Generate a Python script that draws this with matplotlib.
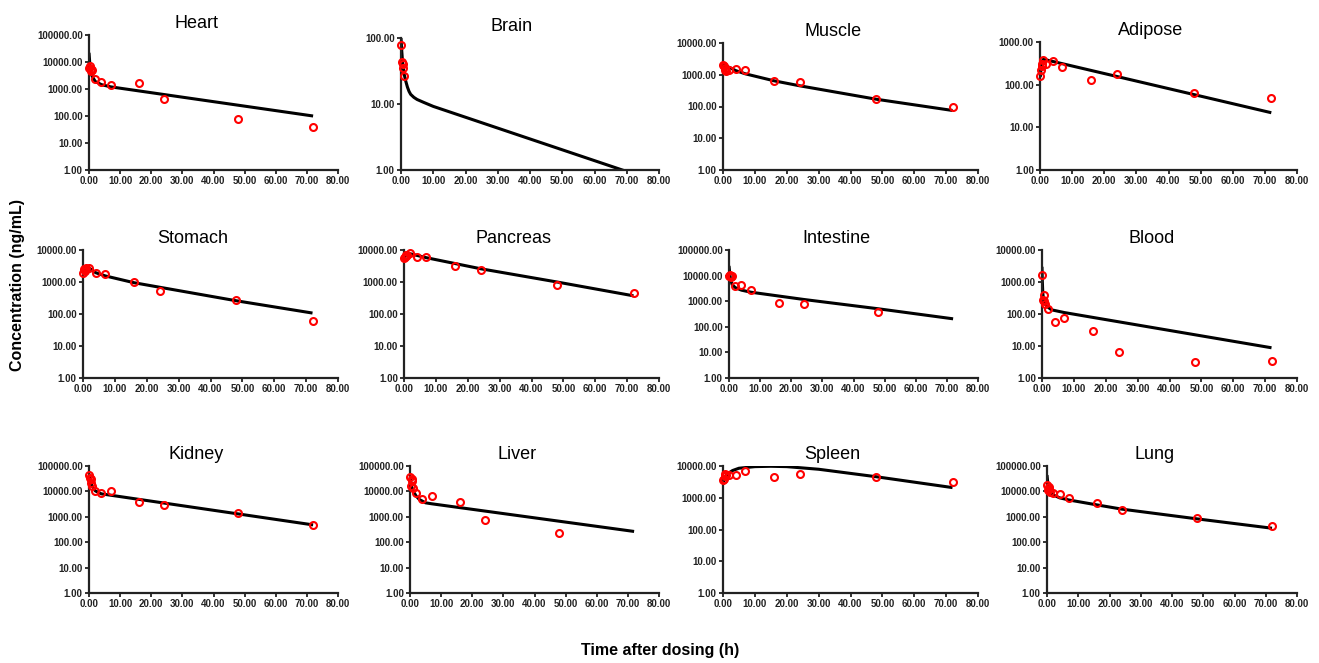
import numpy as np
import matplotlib
matplotlib.use('Agg')
import matplotlib.pyplot as plt
from matplotlib.ticker import FormatStrFormatter, NullLocator, FixedLocator

plt.rcParams['font.family'] = ['Liberation Sans', 'DejaVu Sans']

organs = ['Heart', 'Brain', 'Muscle', 'Adipose',
          'Stomach', 'Pancreas', 'Intestine', 'Blood',
          'Kidney', 'Liver', 'Spleen', 'Lung']

# sampling times (h) of the measured tissue concentrations
obs_time = [0.083, 0.25, 0.5, 0.75, 1, 2, 4, 7, 16, 24, 48, 72]

# observed concentrations (ng/mL)
heart_obs = [6000, 7000, 4500, 5500, 5000, 2300, 1870, 1400, 1620, 415, 75, 38]
brain_obs = [77, 43, 40, 35, 27]
muscle_obs = [1980, 1830, 1620, 1450, 1270, 1380, 1550, 1380, 630, 575, 178, 100]
adipose_obs = [162, 224, 268, 300, 383, 310, 363, 262, 130, 174, 63, 49]
stomach_obs = [1940, 2460, 2150, 2500, 2770, 2650, 1940, 1800, 1000, 525, 275, 61]
pancreas_obs = [5760, 6200, 6790, 6500, 7200, 8200, 6000, 6000, 3070, 2300, 780, 460]
intestine_obs = [9570, 10500, 9000, 10000, 9500, 3900, 4150, 2700, 870, 790, 375]
blood_obs = [1700, 280, 400, 250, 200, 145, 55, 74, 29.5, 6.3, 3.1, 3.4]
kidney_obs = [43000, 35000, 29700, 22000, 16300, 10300, 8300, 10600, 3900, 2800, 1350, 480]
liver_obs = [37000, 16300, 29700, 25500, 13900, 8300, 5150, 6600, 3800, 780, 240]
spleen_obs = [3540, 4000, 4900, 5500, 5300, 5100, 5100, 6900, 4600, 5760, 4600, 3080]
lung_obs = [17900, 11400, 15500, 12100, 9800, 8500, 7900, 5400, 3400, 1870, 890, 440]

# model-predicted curves (time, concentration)
heart_fit_t = [0, 0.25, 0.5, 1, 2, 4, 7, 72]
heart_fit = [22000, 9000, 5000, 3000, 1900, 1450, 1200, 100]
brain_fit_t = [0, 0.25, 0.5, 1, 1.5, 2, 2.5, 3, 4, 5, 7, 10, 72]
brain_fit = [100, 62, 42, 28, 22, 18, 15.5, 14, 12.6, 11.7, 10.6, 9.2, 0.88]
muscle_fit_t = [0, 2, 4, 7, 16, 24, 48, 72]
muscle_fit = [2100, 1700, 1350, 1070, 645, 450, 170, 75]
adipose_fit_t = [0.083, 0.5, 1, 2, 4, 72]
adipose_fit = [150, 330, 390, 380, 350, 22]
stomach_fit_t = [0.083, 0.5, 1, 2, 4, 7, 16, 48, 72]
stomach_fit = [1900, 2500, 2800, 2700, 1950, 1550, 950, 260, 107]
pancreas_fit_t = [0.083, 0.5, 1, 2, 4, 7, 24, 48, 72]
pancreas_fit = [5500, 6500, 7200, 7600, 6800, 5750, 2600, 1000, 370]
intestine_fit_t = [0, 0.25, 0.5, 1, 2, 4, 7, 24, 48, 72]
intestine_fit = [24000, 12000, 7000, 4500, 3400, 2700, 2250, 1170, 505, 205]
blood_fit_t = [0, 0.083, 0.25, 0.5, 1, 2, 3, 7, 72]
blood_fit = [3000, 1200, 450, 280, 200, 160, 135, 111, 8.8]
kidney_fit_t = [0, 0.25, 0.5, 1, 2, 4, 72]
kidney_fit = [50000, 35000, 25000, 16000, 10500, 8000, 480]
liver_fit_t = [0, 0.25, 0.5, 1, 2, 3, 5, 7, 72]
liver_fit = [40000, 25000, 16000, 10300, 6500, 4800, 3550, 3250, 265]
spleen_fit_t = [0, 0.5, 1, 2, 3, 5, 10, 15, 20, 30, 48, 72]
spleen_fit = [2650, 4000, 5000, 6200, 7200, 8500, 9550, 9800, 9550, 7900, 4600, 2090]
lung_fit_t = [0, 0.25, 0.5, 1, 2, 4, 7, 16, 24, 48, 72]
lung_fit = [44000, 22000, 14000, 9500, 7250, 5600, 4600, 2940, 2000, 830, 355]

# upper decade of each y axis
y_top = [1e5, 1e2, 1e4, 1e3, 1e4, 1e4, 1e5, 1e4, 1e5, 1e5, 1e4, 1e5]

x_ticks = [0, 10, 20, 30, 40, 50, 60, 70, 80]

observed = [heart_obs, brain_obs, muscle_obs, adipose_obs, stomach_obs, pancreas_obs,
            intestine_obs, blood_obs, kidney_obs, liver_obs, spleen_obs, lung_obs]
fit_times = [heart_fit_t, brain_fit_t, muscle_fit_t, adipose_fit_t, stomach_fit_t,
             pancreas_fit_t, intestine_fit_t, blood_fit_t, kidney_fit_t, liver_fit_t,
             spleen_fit_t, lung_fit_t]
fits = [heart_fit, brain_fit, muscle_fit, adipose_fit, stomach_fit, pancreas_fit,
        intestine_fit, blood_fit, kidney_fit, liver_fit, spleen_fit, lung_fit]

W, H = 1319, 663
# pixel boxes of each axes: (left, right, top, bottom)
boxes = [(89, 338, 35, 170), (401, 659, 38, 170), (723, 978, 43, 170), (1040, 1297, 42, 170),
         (83, 338, 250, 378), (404, 659, 250, 378), (729, 978, 250, 378), (1042, 1297, 250, 378),
         (89, 338, 466, 593), (410, 659, 466, 593), (723, 978, 466, 593), (1047, 1297, 466, 593)]


def style_axes(ax, top):
    ax.set_yscale('log')
    ax.set_xlim(0, 80)
    ax.set_ylim(1, top)
    ax.xaxis.set_major_locator(FixedLocator(x_ticks))
    decades = [10 ** k for k in range(int(round(np.log10(top))) + 1)]
    ax.yaxis.set_major_locator(FixedLocator(decades))
    ax.yaxis.set_minor_locator(NullLocator())
    ax.xaxis.set_major_formatter(FormatStrFormatter('%.2f'))
    ax.yaxis.set_major_formatter(FormatStrFormatter('%.2f'))
    for side in ['top', 'right']:
        ax.spines[side].set_visible(False)
    for side in ['left', 'bottom']:
        ax.spines[side].set_linewidth(1.6)
        ax.spines[side].set_color('#222222')
    ax.tick_params(axis='both', direction='out', length=3, width=1.3, color='#222222',
                   labelsize=7, labelcolor='#222222', pad=1.5)
    for lab in ax.get_xticklabels() + ax.get_yticklabels():
        lab.set_fontweight('bold')
    ax.patch.set_alpha(0)


def main():
    fig = plt.figure(figsize=(W / 100, H / 100), dpi=100)
    for i, name in enumerate(organs):
        l, r, t, b = boxes[i]
        ax = fig.add_axes([l / W, 1 - b / H, (r - l) / W, (b - t) / H])
        style_axes(ax, y_top[i])
        ax.plot(fit_times[i], fits[i], color='black', lw=2.2, solid_capstyle='butt',
                solid_joinstyle='round', zorder=2)
        ax.plot(obs_time[:len(observed[i])], observed[i], linestyle='none', marker='o',
                markersize=5, markerfacecolor='none', markeredgecolor='#ff0000',
                markeredgewidth=1.5, clip_on=False, zorder=3)
        ax.set_title(name, fontsize=13, x=0.43, pad=5)

    fig.text(18 / W, 1 - 285 / H, 'Concentration (ng/mL)', rotation=90, ha='center',
             va='center', fontsize=11.5, fontweight='bold')
    fig.text(660 / W, 1 - 650 / H, 'Time after dosing (h)', ha='center', va='center',
             fontsize=11.5, fontweight='bold')
    fig.savefig('out.png', dpi=100)


if __name__ == "__main__":
    main()
